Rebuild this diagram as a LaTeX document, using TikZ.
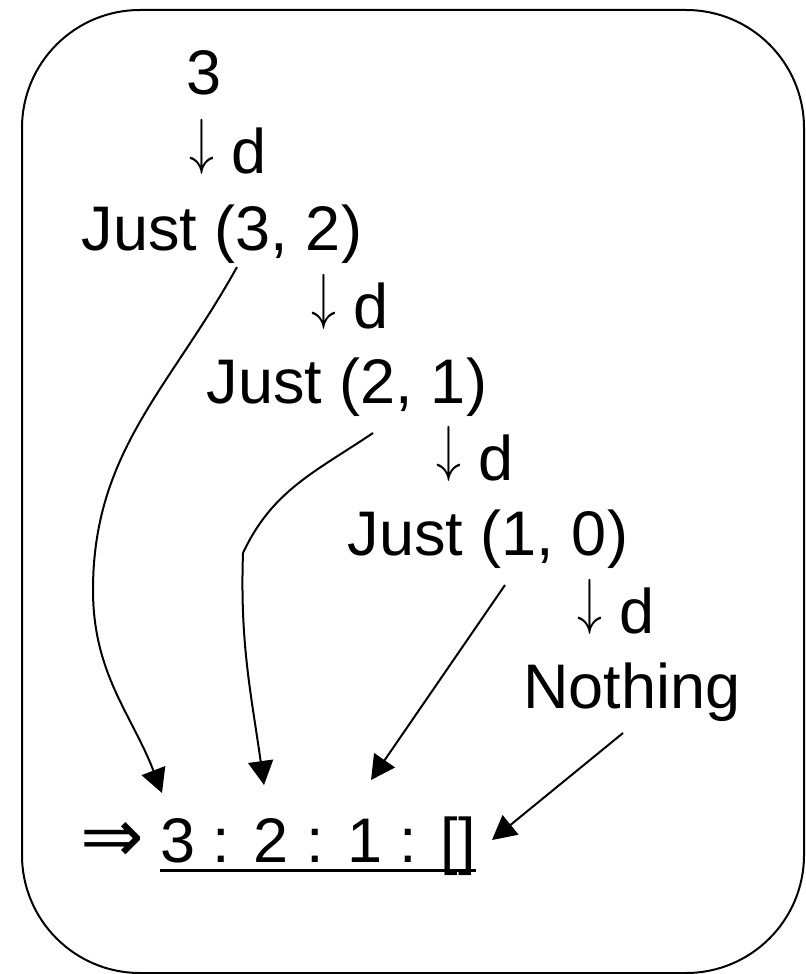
\documentclass[tikz,border=0pt]{standalone}
\usepackage{fontspec}
\setmainfont{Liberation Sans}
\newfontfamily\symfont{DejaVu Sans}
\usetikzlibrary{arrows.meta}
\newcommand{\stepdown}{\raisebox{0.17em}{\scalebox{1}[1.25]{$\downarrow$}}}
\tikzset{
    steptext/.style={
        anchor=base,
        inner sep=0pt,
        font=\fontsize{31.5}{38}\selectfont
    },
    % arrows into the result list
    resarrow/.style={
        line width=1pt,
        black,
        -{Triangle[length=12pt, width=12.5pt]}
    }
}

\begin{document}
\begin{tikzpicture}[x=0.5pt,y=-0.5pt]
	\useasboundingbox (0,0) rectangle (805,974);
	\draw[line width=1pt,rounded corners=59pt] (22,10) rectangle (804,973);
	
	% unfold steps
	\node[steptext] (n3)  at (204,95)  {3};
	\node[steptext] (d1)  at (228,173) {\stepdown\ d};
	\node[steptext] (j32) at (222,250) {Just (3, 2)};
	\node[steptext] (d2)  at (350,328) {\stepdown\ d};
	\node[steptext] (j21) at (347,403) {Just (2, 1)};
	\node[steptext] (d3)  at (475,480) {\stepdown\ d};
	\node[steptext] (j10) at (488,555) {Just (1, 0)};
	\node[steptext] (d4)  at (616,633) {\stepdown\ d};
	\node[steptext] (nth) at (632,708) {Nothing};
	
	% result
	\node[steptext,font=\fontsize{38}{42}\selectfont\symfont] (imp) at (112,862) {⇒};
	\node[steptext,anchor=base west] (lst) at (160,862) {3 : 2 : 1 : []};
	\draw[line width=1.5pt] ([yshift=-4pt]lst.base west) -- ([yshift=-4pt]lst.base east);
	
	\path
	(237,267) coordinate (s1)
	(373,433) coordinate (s2)
	(505,585) coordinate (s3)
	(623,733) coordinate (s4)
	(93,590)  coordinate (k1)
	(243,553) coordinate (k2)
	(162,793) coordinate (t1)
	(264,785) coordinate (t2)
	(371,780) coordinate (t3)
	(492,840) coordinate (t4);
	
	% arrows
	\draw[resarrow] (s1) to[out=-119,in=90] (k1) to[out=-90,in=111] (t1);
	\draw[resarrow] (s2) to[out=-146,in=65] (k2) to[out=-92,in=98] (t2);
	\draw[resarrow] (s3) -- (t3);
	\draw[resarrow] (s4) -- (t4);
\end{tikzpicture}
\end{document}
